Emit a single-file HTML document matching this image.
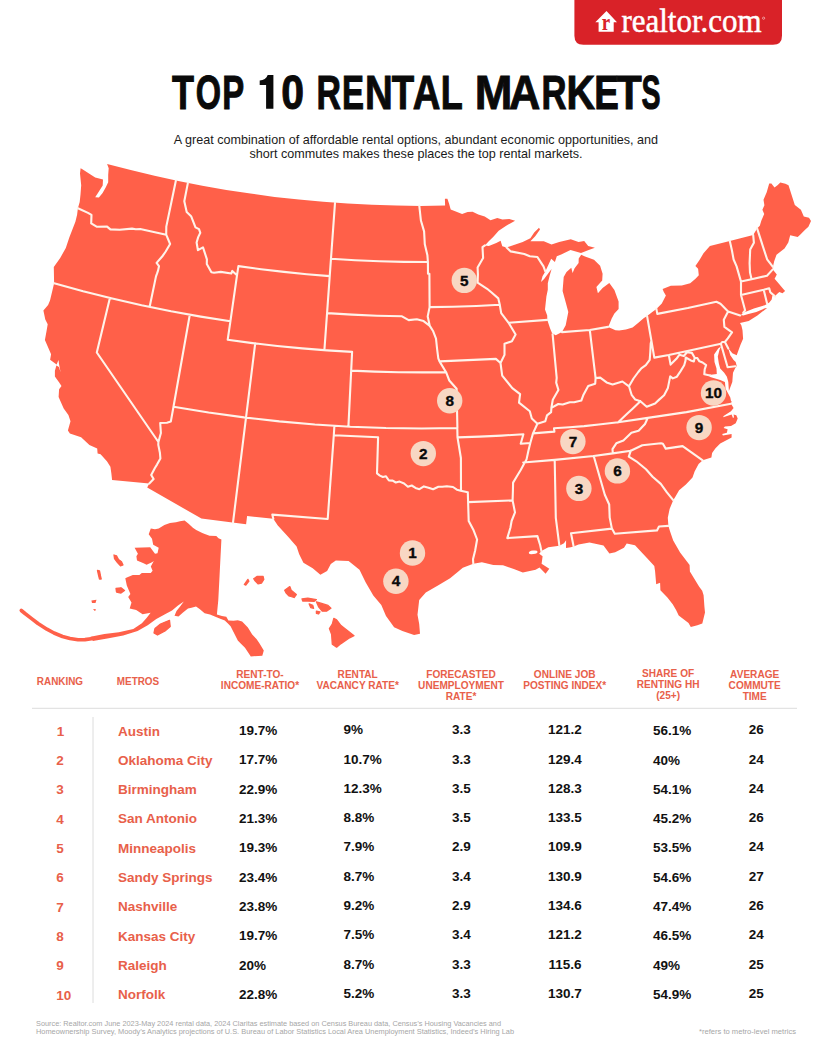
<!DOCTYPE html>
<html><head><meta charset="utf-8"><style>
html,body{margin:0;padding:0;background:#fff;}
body{width:832px;height:1040px;overflow:hidden;position:relative;font-family:"Liberation Sans",sans-serif;}
svg text{font-family:"Liberation Sans",sans-serif;}
.h{font-size:10.1px;font-weight:bold;fill:#E8604A;}
.rk{font-size:13.5px;font-weight:bold;fill:#E8604A;}
.mt{font-size:13.5px;font-weight:bold;fill:#E8604A;}
.v{font-size:13.5px;font-weight:bold;fill:#111;}
.cn{font-size:15.3px;font-weight:bold;fill:#0a0a0a;stroke:#0a0a0a;stroke-width:0.35px;}
</style></head><body>
<svg width="832" height="1040" viewBox="0 0 832 1040" style="position:absolute;left:0;top:0">
<path d="M574.4,0 H782 V35.7 Q782,44.7 773,44.7 H583.4 Q574.4,44.7 574.4,35.7 Z" fill="#D92228"/>
<circle cx="763.6" cy="18.2" r="1.1" fill="none" stroke="#fff" stroke-width="0.5"/>
<path d="M606.5,11 L617,22.3 L613.7,22.3 L613.7,31.8 L598.6,31.8 L598.6,22.3 L595.3,22.3 Z" fill="#fff"/>
<text transform="translate(601.8,29.6) scale(0.8,1)" font-size="23.6" font-weight="bold" fill="#D92228" style="font-family:'Liberation Serif',serif">r</text>
<text x="621.5" y="31.5" font-family="Liberation Serif" font-size="34" fill="#fff" textLength="140" lengthAdjust="spacingAndGlyphs" stroke="#fff" stroke-width="0.5" style="font-family:'Liberation Serif',serif">realtor.com</text>
<text transform="translate(172.05,108.5) scale(0.7460,1)" font-size="48.26" font-weight="bold" fill="#0a0a0a" stroke="#0a0a0a" stroke-width="0.9" vector-effect="non-scaling-stroke">T</text>
<text transform="translate(195.72,108.5) scale(0.6740,1)" font-size="48.26" font-weight="bold" fill="#0a0a0a" stroke="#0a0a0a" stroke-width="0.9" vector-effect="non-scaling-stroke">O</text>
<text transform="translate(222.35,108.5) scale(0.6811,1)" font-size="48.26" font-weight="bold" fill="#0a0a0a" stroke="#0a0a0a" stroke-width="0.9" vector-effect="non-scaling-stroke">P</text>
<path d="M273.4,75 L273.4,108.8 L266.1,108.8 L266.1,84.9 L259.7,84.9 L259.7,80.5 C263.6,80.3 266.6,78.6 267.7,75 Z" fill="#0a0a0a"/>
<text transform="translate(281.23,108.5) scale(0.8497,1)" font-size="48.26" font-weight="bold" fill="#0a0a0a" stroke="#0a0a0a" stroke-width="0.9" vector-effect="non-scaling-stroke">0</text>
<text transform="translate(316.38,108.5) scale(0.7019,1)" font-size="48.26" font-weight="bold" fill="#0a0a0a" stroke="#0a0a0a" stroke-width="0.9" vector-effect="non-scaling-stroke">R</text>
<text transform="translate(341.94,108.5) scale(0.6833,1)" font-size="48.26" font-weight="bold" fill="#0a0a0a" stroke="#0a0a0a" stroke-width="0.9" vector-effect="non-scaling-stroke">E</text>
<text transform="translate(365.08,108.5) scale(0.7966,1)" font-size="48.26" font-weight="bold" fill="#0a0a0a" stroke="#0a0a0a" stroke-width="0.9" vector-effect="non-scaling-stroke">N</text>
<text transform="translate(391.74,108.5) scale(0.7601,1)" font-size="48.26" font-weight="bold" fill="#0a0a0a" stroke="#0a0a0a" stroke-width="0.9" vector-effect="non-scaling-stroke">T</text>
<text transform="translate(412.70,108.5) scale(0.7938,1)" font-size="48.26" font-weight="bold" fill="#0a0a0a" stroke="#0a0a0a" stroke-width="0.9" vector-effect="non-scaling-stroke">A</text>
<text transform="translate(440.84,108.5) scale(0.7470,1)" font-size="48.26" font-weight="bold" fill="#0a0a0a" stroke="#0a0a0a" stroke-width="0.9" vector-effect="non-scaling-stroke">L</text>
<text transform="translate(474.63,108.5) scale(0.9365,1)" font-size="48.26" font-weight="bold" fill="#0a0a0a" stroke="#0a0a0a" stroke-width="0.9" vector-effect="non-scaling-stroke">M</text>
<text transform="translate(509.07,108.5) scale(0.8988,1)" font-size="48.26" font-weight="bold" fill="#0a0a0a" stroke="#0a0a0a" stroke-width="0.9" vector-effect="non-scaling-stroke">A</text>
<text transform="translate(541.43,108.5) scale(0.7182,1)" font-size="48.26" font-weight="bold" fill="#0a0a0a" stroke="#0a0a0a" stroke-width="0.9" vector-effect="non-scaling-stroke">R</text>
<text transform="translate(566.41,108.5) scale(0.8180,1)" font-size="48.26" font-weight="bold" fill="#0a0a0a" stroke="#0a0a0a" stroke-width="0.9" vector-effect="non-scaling-stroke">K</text>
<text transform="translate(594.18,108.5) scale(0.7646,1)" font-size="48.26" font-weight="bold" fill="#0a0a0a" stroke="#0a0a0a" stroke-width="0.9" vector-effect="non-scaling-stroke">E</text>
<text transform="translate(616.58,108.5) scale(0.8586,1)" font-size="48.26" font-weight="bold" fill="#0a0a0a" stroke="#0a0a0a" stroke-width="0.9" vector-effect="non-scaling-stroke">T</text>
<text transform="translate(641.53,108.5) scale(0.5915,1)" font-size="48.26" font-weight="bold" fill="#0a0a0a" stroke="#0a0a0a" stroke-width="0.9" vector-effect="non-scaling-stroke">S</text>
<text x="416" y="144" text-anchor="middle" font-size="12.6" fill="#1a1a1a">A great combination of affordable rental options, abundant economic opportunities, and</text>
<text x="416" y="157.5" text-anchor="middle" font-size="12.6" fill="#1a1a1a">short commutes makes these places the top rental markets.</text>
<path d="M107.1,164.0 L130.7,170.1 L154.5,175.8 L178.3,181.0 L202.3,185.7 L226.3,189.9 L250.4,193.6 L274.6,196.9 L298.9,199.6 L323.2,201.8 L347.5,203.6 L371.9,204.8 L396.3,205.6 L420.7,205.9 L445.1,205.6 L444.9,198.7 L447.4,198.8 L449.1,203.7 L450.7,209.5 L456.4,211.7 L462.1,213.9 L467.6,211.9 L472.6,211.7 L478.3,214.5 L484.7,216.6 L490.5,220.3 L497.3,218.1 L502.4,219.6 L509.3,219.1 L515.1,220.7 L506.2,225.7 L498.7,230.8 L493.4,236.7 L488.5,241.5 L484.9,245.4 L488.8,246.1 L496.3,242.9 L500.6,240.8 L502.3,246.2 L506.6,247.4 L522.7,242.1 L530.4,238.3 L534.2,232.5 L539.0,227.7 L540.0,229.6 L535.2,236.3 L530.4,241.2 L543.8,241.2 L551.5,244.6 L559.2,242.1 L570.8,239.2 L578.5,242.1 L584.2,240.9 L588.2,246.0 L594.9,247.8 L588.7,250.0 L581.0,253.1 L570.5,250.1 L561.2,254.5 L556.8,256.3 L554.9,262.1 L551.2,258.7 L545.3,271.4 L542.5,276.3 L541.0,282.1 L544.1,279.0 L549.3,271.9 L551.6,268.9 L549.7,275.6 L547.8,283.3 L547.8,289.8 L546.4,296.4 L545.0,309.6 L547.2,315.4 L547.3,319.9 L550.2,328.8 L552.1,333.3 L555.7,335.3 L562.0,332.1 L565.7,325.3 L568.3,311.9 L566.1,303.7 L562.6,291.0 L563.7,276.9 L566.5,271.9 L571.3,267.7 L572.6,273.1 L574.6,268.2 L578.6,263.0 L578.7,258.4 L581.2,254.7 L585.0,256.6 L594.0,259.7 L600.1,265.8 L602.6,273.8 L602.2,280.4 L596.4,286.9 L597.9,293.2 L602.6,287.9 L609.3,283.1 L614.4,289.9 L618.6,301.5 L618.6,309.0 L614.4,313.4 L611.7,318.5 L609.7,323.5 L608.1,327.1 L615.5,330.2 L619.1,330.6 L625.9,329.6 L632.6,327.6 L638.7,322.4 L643.6,318.2 L647.1,316.1 L652.3,312.0 L656.4,308.9 L661.8,303.6 L665.9,295.6 L663.8,291.9 L662.6,289.1 L670.8,285.8 L681.8,285.5 L690.2,283.2 L695.5,278.8 L698.8,275.3 L698.1,268.8 L695.4,265.9 L699.5,259.9 L703.5,253.3 L709.9,246.1 L711.9,245.5 L729.8,241.1 L753.2,235.1 L757.1,228.4 L759.8,225.8 L761.4,220.5 L764.2,214.0 L762.4,209.7 L764.4,205.3 L763.5,199.8 L766.7,192.2 L769.2,183.6 L771.4,183.5 L774.5,187.4 L777.8,185.1 L780.3,182.4 L785.4,183.7 L788.5,185.2 L794.8,204.9 L800.9,209.7 L803.8,216.6 L809.0,217.8 L811.0,221.1 L808.4,226.8 L805.1,229.7 L800.4,234.5 L797.7,236.9 L790.2,235.3 L788.3,242.6 L784.5,248.6 L776.5,254.7 L774.2,261.2 L772.9,266.8 L772.8,269.4 L776.8,274.5 L774.6,278.8 L778.9,283.8 L783.3,288.9 L785.1,291.0 L782.5,293.2 L779.3,292.1 L776.5,294.5 L775.3,296.6 L772.4,295.5 L771.7,299.5 L769.3,302.5 L764.8,305.3 L753.9,308.4 L743.3,312.7 L741.0,315.0 L743.3,315.5 L747.5,314.3 L756.3,312.1 L764.9,308.3 L767.1,307.9 L757.4,315.5 L748.7,320.9 L740.0,323.0 L741.4,325.6 L742.5,330.2 L743.1,338.7 L740.4,345.1 L736.7,355.2 L732.3,353.2 L729.6,349.8 L728.3,348.5 L730.3,355.2 L733.6,359.9 L735.7,361.9 L736.7,366.0 L735.0,368.6 L733.0,372.7 L732.3,382.1 L728.9,390.9 L728.3,382.1 L726.9,376.7 L724.2,372.7 L720.2,368.6 L718.8,363.3 L717.8,356.5 L719.5,349.8 L720.9,346.4 L718.2,348.5 L714.1,354.5 L714.5,361.9 L716.5,368.6 L716.8,374.0 L710.8,374.7 L709.4,376.7 L713.5,378.1 L720.2,380.1 L724.9,382.1 L725.6,388.8 L730.3,397.6 L731.0,401.0 L731.6,401.1 L731.0,403.7 L733.6,408.1 L731.0,411.2 L723.6,415.9 L723.2,417.2 L731.6,414.5 L733.0,417.9 L734.0,417.2 L733.6,414.5 L736.3,415.2 L737.7,418.6 L735.7,423.3 L731.0,426.0 L724.9,426.6 L723.6,428.0 L727.6,429.3 L726.9,432.7 L722.2,434.0 L722.9,435.4 L731.6,434.0 L731.6,437.4 L726.9,440.1 L720.2,443.5 L715.5,448.2 L712.1,452.9 L711.4,457.6 L702.7,460.3 L698.6,464.0 L694.6,471.4 L692.5,477.5 L685.9,484.4 L679.1,490.3 L675.5,496.6 L673.2,500.2 L669.6,508.9 L667.8,517.7 L668.4,525.9 L670.1,531.5 L673.2,540.4 L680.1,552.4 L689.6,564.9 L689.9,571.4 L699.2,586.7 L702.2,590.8 L703.6,595.3 L704.4,606.4 L705.0,612.4 L702.3,623.5 L697.4,625.3 L690.8,627.0 L688.5,623.1 L678.7,615.4 L676.2,610.2 L672.7,604.2 L667.4,597.5 L660.4,590.2 L660.1,582.8 L656.2,584.3 L655.1,571.4 L654.3,565.9 L647.4,558.5 L642.7,553.5 L635.0,545.2 L626.7,543.6 L624.0,547.7 L615.2,552.2 L609.4,553.6 L603.5,545.5 L589.5,542.5 L578.5,544.6 L573.6,546.4 L570.8,547.2 L566.0,548.0 L566.1,540.2 L564.0,543.2 L559.4,545.8 L548.3,547.2 L541.4,551.1 L539.2,553.7 L542.6,556.2 L541.6,563.7 L549.3,568.7 L545.6,573.7 L539.5,567.6 L535.6,569.8 L522.8,572.5 L514.5,569.3 L503.0,565.3 L493.3,564.9 L481.9,562.2 L473.3,563.8 L462.8,567.8 L458.0,571.7 L450.1,578.3 L438.8,585.0 L425.8,592.5 L419.2,599.9 L417.5,614.7 L419.2,623.9 L420.0,633.8 L414.1,634.9 L402.4,631.1 L394.1,627.3 L386.0,616.1 L381.3,604.9 L373.3,595.5 L365.6,582.2 L359.5,569.8 L348.6,561.1 L335.8,560.5 L330.8,563.9 L327.1,571.1 L320.4,574.8 L312.7,568.3 L303.4,562.8 L299.2,554.3 L296.6,546.6 L287.9,536.6 L277.8,525.4 L273.3,518.8 L247.1,516.0 L246.1,524.3 L201.4,518.5 L147.2,487.6 L149.3,483.6 L112.1,479.9 L111.4,473.7 L110.4,466.8 L106.9,461.3 L100.6,454.2 L97.6,453.5 L97.2,448.6 L89.4,444.9 L81.1,437.2 L69.9,433.6 L67.9,430.5 L70.5,421.2 L68.4,414.9 L63.7,408.5 L58.6,396.9 L59.1,389.3 L61.5,386.1 L59.0,382.3 L54.9,376.6 L54.9,370.8 L56.4,365.4 L58.9,367.0 L60.6,372.3 L59.0,364.1 L58.5,360.1 L56.6,364.5 L50.1,359.8 L51.1,354.3 L44.9,339.9 L46.6,330.7 L47.7,324.2 L45.3,319.6 L43.4,310.5 L48.1,304.9 L50.0,300.6 L53.0,287.9 L54.1,283.3 L53.8,267.0 L60.2,258.0 L65.8,248.0 L69.3,237.4 L75.4,221.8 L77.1,214.7 L77.9,208.2 L79.7,202.0 L80.5,194.6 L81.2,185.2 L80.0,173.4 L80.6,168.3 L82.0,168.9 L95.2,177.4 L103.0,179.5 L102.7,185.5 L98.1,192.8 L95.2,197.2 L98.9,197.4 L102.6,193.1 L105.8,187.3 L108.2,182.2 L108.2,174.7 L108.7,168.2 L107.1,164.0Z M221.4,539.5 L219.6,575.0 L218.3,600.0 L216.9,614.6 L221.9,616.0 L226.3,616.8 L228.4,620.6 L233.5,620.8 L237.8,620.2 L242.1,621.6 L247.9,627.4 L252.2,634.6 L256.5,638.9 L259.4,643.3 L263.8,650.5 L262.3,655.7 L250.8,656.4 L245.0,647.8 L240.7,643.5 L237.8,640.6 L233.5,631.9 L230.6,626.2 L227.7,623.3 L224.8,620.4 L219.0,618.2 L210.0,614.5 L204.6,613.2 L199.6,609.0 L196.0,606.5 L191.5,607.8 L188.0,608.5 L183.0,612.5 L178.5,616.5 L174.5,615.8 L176.5,611.0 L180.5,606.0 L183.8,601.5 L178.0,605.5 L172.0,610.5 L165.0,614.3 L156.3,619.0 L147.7,625.2 L137.6,631.0 L123.2,635.6 L107.3,638.6 L92.9,641.0 L90.5,636.8 L104.4,634.0 L118.8,632.2 L133.3,629.0 L141.9,623.2 L147.0,617.5 L150.6,612.8 L142.6,614.2 L136.2,610.0 L129.7,608.5 L131.5,602.5 L128.2,597.0 L130.4,594.0 L126.8,585.5 L125.3,578.2 L127.4,577.3 L132.8,574.9 L139.4,574.9 L141.8,573.1 L150.8,573.1 L152.6,570.7 L150.8,566.5 L153.8,561.1 L152.0,562.3 L146.6,564.7 L143.0,562.9 L137.0,560.5 L136.4,556.3 L137.9,553.8 L134.6,547.8 L150.2,547.2 L155.0,553.8 L157.5,553.2 L158.7,547.8 L153.2,544.8 L152.0,538.8 L148.7,534.3 L150.8,528.6 L155.0,529.2 L158.7,528.6 L164.4,525.0 L170.0,523.0 L176.0,522.2 L180.0,521.3 L184.6,520.5 L188.6,523.7 L192.9,527.8 L196.2,530.1 L202.3,533.1 L204.8,533.9 L209.5,535.8 L216.3,535.9 L218.5,538.2ZM169.5,620.3 L170.2,626.5 L165.0,631.0 L157.5,635.0 L154.0,633.0 L155.0,628.5 L160.5,624.0ZM116.0,588.5 L121.0,587.8 L124.5,590.5 L121.0,593.0 L116.5,592.0ZM97.5,570.5 L99.5,571.0 L100.5,576.0 L101.2,579.0 L99.5,579.0 L98.5,575.0ZM114.0,555.0 L116.5,555.8 L118.5,559.5 L121.5,561.8 L123.0,565.0 L120.5,565.8 L117.5,562.5 L114.5,558.5ZM91.4,600.5 L96.5,599.8 L95.5,603.0 L92.0,603.0ZM93.0,609.0 L96.0,609.2 L95.0,611.2Z" fill="#FF6049"/>
<path d="M244.3,584.5 L247.9,579.4 L248.9,581.2 L245.8,585.2ZM253.7,578.7 L257.3,576.3 L263.1,576.5 L263.8,579.4 L261.6,583.0 L258.0,583.8 L255.1,580.9ZM284.7,590.2 L289.8,586.6 L291.2,590.2 L296.3,594.6 L294.1,597.5 L289.0,596.0 L286.2,593.1ZM302.0,598.9 L307.8,598.2 L316.4,599.6 L314.3,601.3 L307.8,601.0 L302.7,601.0ZM309.2,603.9 L312.8,605.4 L313.6,608.3 L310.7,607.6ZM316.4,601.8 L320.8,603.2 L328.0,605.4 L330.9,608.3 L326.5,611.2 L322.2,611.2 L318.6,606.8ZM316.4,611.2 L320.0,611.9 L318.6,614.0 L316.4,613.3ZM333.8,618.4 L336.6,619.8 L341.0,625.6 L346.7,629.9 L354.0,635.7 L349.6,637.8 L341.0,643.6 L336.6,647.2 L332.3,644.3 L331.6,634.2 L329.4,628.5 L332.3,624.1ZM169.5,620.3 L170.2,626.5 L165.0,631.0 L157.5,635.0 L154.0,633.0 L155.0,628.5 L160.5,624.0ZM116.0,588.5 L121.0,587.8 L124.5,590.5 L121.0,593.0 L116.5,592.0ZM97.5,570.5 L99.5,571.0 L100.5,576.0 L101.2,579.0 L99.5,579.0 L98.5,575.0ZM114.0,555.0 L116.5,555.8 L118.5,559.5 L121.5,561.8 L123.0,565.0 L120.5,565.8 L117.5,562.5 L114.5,558.5Z" fill="#FF6049" stroke="#FF6049" stroke-width="1.3" stroke-linejoin="round"/>
<path d="M93.0,638.5 L85.0,639.6 L78.0,639.8 L70.0,638.5 L62.5,636.5 L54.0,633.0 L46.9,629.2 L38.0,623.5 L31.3,618.3 L25.0,613.5 L21.3,610.5" fill="none" stroke="#FF6049" stroke-width="3.6" stroke-linecap="round" stroke-linejoin="round"/>
<ellipse cx="533.2" cy="552.3" rx="4.4" ry="1.7" fill="#fff" transform="rotate(-8 533.2 552.3)"/>
<path d="M77.9,208.2 L88.0,212.9 L91.5,214.8 L91.2,223.4 L97.0,226.8 L107.1,226.6 L110.4,229.4 L119.7,229.8 L132.0,228.6 L135.8,229.3 L140.2,229.0 L166.2,234.7 M175.9,180.5 L166.3,226.6 L166.2,234.7 M166.2,234.7 L170.1,244.0 L165.7,251.5 L162.8,255.7 L156.6,262.9 L159.0,266.2 L158.1,270.4 L157.1,273.4 L156.0,276.4 L149.6,307.0 M54.1,283.3 L83.1,291.3 L112.3,298.6 L141.6,305.3 L171.1,311.3 L200.7,316.6 L230.4,321.3 M109.9,298.1 L96.8,352.5 L158.4,442.0 M158.4,442.0 L160.9,433.0 L160.2,423.0 L166.9,422.7 L170.8,421.6 L173.5,406.7 M158.4,442.0 L158.3,444.9 L159.9,452.7 L160.4,458.5 L157.0,464.6 L154.9,468.0 L151.2,474.9 L153.6,479.1 L149.3,483.6 M189.8,314.7 L173.5,406.7 M173.5,406.7 L208.6,412.5 L243.9,417.4 L279.3,421.4 L314.8,424.5 L350.4,426.7 L386.0,428.0 L421.6,428.5 L457.3,428.0 M187.9,182.9 L184.3,201.2 L186.7,212.1 L191.1,216.2 L195.5,227.3 L199.0,229.2 L200.3,232.8 L198.2,237.1 L196.6,242.5 L197.9,250.2 L203.0,247.4 L206.9,259.3 L206.8,264.0 L211.4,272.3 L214.0,272.7 L220.8,271.9 L231.3,273.5 L232.3,270.9 L237.0,275.3 M237.0,275.3 L230.4,321.3 M237.0,275.3 L238.4,266.1 L238.4,266.1 L261.1,269.2 L284.0,271.9 L306.8,274.2 L329.7,276.1 M335.0,202.8 L324.4,350.2 M230.4,321.3 L227.7,339.7 L227.7,339.7 L252.5,343.1 L277.3,346.0 L302.2,348.4 L327.2,350.4 L352.1,351.9 M255.2,343.4 L233.0,522.7 M348.4,426.6 L352.1,351.9 M351.2,370.6 L374.9,371.6 L398.6,372.2 L422.4,372.4 L446.1,372.2 M334.4,425.8 L333.8,435.2 L327.7,519.0 L272.3,514.6 L273.3,518.8 M333.8,435.2 L378.1,437.2 L377.0,473.4 L379.9,475.6 L382.9,477.0 L386.0,476.3 L388.9,480.5 L392.7,480.6 L395.8,482.5 L399.6,481.6 L404.1,483.5 L407.9,486.7 L411.7,485.5 L415.5,487.9 L419.4,489.2 L423.9,486.4 L428.5,487.7 L433.1,489.2 L438.4,486.7 L442.3,486.8 L446.8,486.2 L453.0,487.0 L456.9,489.7 L460.7,490.8 L467.8,492.2 M331.0,258.7 L355.2,260.2 L379.4,261.3 L403.7,261.9 L427.9,262.0 M419.3,205.9 L420.9,220.5 L424.1,231.4 L424.8,244.3 L427.4,255.3 L427.9,262.0 M327.1,313.1 L352.0,314.6 L377.0,315.7 L402.0,316.3 L408.7,320.1 L416.8,319.2 L423.6,321.1 L429.8,325.9 M427.9,262.0 L428.0,273.8 L429.4,273.8 L429.6,307.1 L427.7,316.4 L429.8,325.9 M429.6,307.1 L453.0,306.8 L476.4,306.0 L499.8,304.8 M499.8,304.8 L498.3,298.4 L491.3,292.3 L487.1,288.8 L477.6,282.7 L477.9,274.4 L477.6,267.5 L483.1,257.9 L482.5,247.2 L484.9,245.4 M429.8,325.9 L433.2,331.3 L436.0,338.7 L437.1,349.0 L438.3,358.3 L439.5,361.4 L446.1,372.2 M446.1,372.2 L449.3,380.5 L456.6,388.7 L457.4,428.0 M457.3,428.0 L457.5,437.4 L460.9,458.0 L461.0,490.8 M467.8,492.2 L468.7,521.1 L473.6,530.3 L477.1,539.5 L475.1,550.7 L473.0,559.2 L473.3,563.8 M468.1,502.1 L512.6,500.4 M457.5,437.4 L479.5,436.6 L501.5,435.6 L523.4,434.2 L520.7,443.7 L530.3,443.0 M530.3,443.0 L528.4,450.7 L526.5,459.6 L523.4,465.1 L520.7,470.0 L516.6,476.8 L513.1,482.6 L512.9,491.1 L512.6,500.4 L515.0,512.4 L511.6,521.0 L510.4,527.7 L507.3,538.1 L537.4,536.1 L540.2,545.2 L541.4,551.1 M439.5,361.4 L495.9,358.9 L500.5,363.0 M500.5,363.0 L502.2,375.6 L512.3,388.1 L520.1,394.1 L519.0,402.6 L529.8,411.2 L531.8,418.5 L537.4,423.7 L533.0,433.4 L530.3,443.0 M499.8,304.8 L501.2,313.1 L508.6,322.8 L515.6,334.5 L511.9,341.3 L504.5,343.7 L504.5,354.9 L500.5,363.0 M508.8,322.8 L547.3,319.9 M506.6,247.4 L510.7,251.4 L524.3,254.0 L529.8,256.3 L537.4,257.0 L541.5,263.4 L543.5,266.4 L545.3,271.4 M552.6,334.2 L556.7,377.8 L556.2,382.6 L558.4,389.9 L552.8,399.8 L551.4,407.8 M551.4,407.8 L551.1,412.2 L547.0,415.4 L545.3,421.2 L537.4,423.7 M562.0,332.1 L589.8,330.0 L608.1,326.9 M589.8,330.0 L595.6,378.1 M551.4,407.8 L558.3,404.0 L562.7,404.5 L569.8,402.2 L574.2,402.3 L581.3,400.6 L583.5,394.7 L588.2,386.0 L595.2,383.8 L595.6,378.1 L600.2,377.6 L606.6,382.4 L612.6,384.4 L622.4,381.5 L629.0,386.3 L633.5,378.5 L638.3,372.0 L641.3,368.3 L645.8,365.1 L649.7,359.8 L650.3,351.9 L650.7,343.5 L651.4,340.7 M651.4,340.7 L647.1,316.1 M651.4,340.7 L654.3,357.6 L668.8,355.0 L720.9,343.7 L722.1,342.0 L724.9,342.0 M668.8,355.0 L670.6,364.6 L676.4,358.8 L679.3,354.8 L683.8,356.0 L687.0,352.2 L691.9,352.9 L694.7,357.7 M694.7,357.7 L697.3,358.1 L699.4,361.3 L702.6,362.5 L706.1,365.2 L704.7,369.3 L704.3,374.2 L708.9,375.2 L710.1,375.4 M694.7,357.7 L693.9,361.4 L690.8,360.4 L685.7,357.5 L685.5,360.6 L684.2,365.3 L680.6,371.1 L676.9,376.7 L672.8,378.4 L670.2,376.4 L667.9,387.9 L664.1,395.2 L658.9,399.9 L655.1,403.4 L646.7,406.7 L640.4,401.2 M640.4,401.2 L635.3,399.6 L631.6,394.8 L629.0,386.3 M640.4,401.2 L632.3,408.9 L627.1,413.8 L618.2,422.3 M618.2,422.3 L598.8,424.5 L584.2,426.1 L569.5,427.3 L554.0,428.3 L554.4,431.6 L533.0,433.4 M618.2,422.3 L647.8,417.9 L686.5,412.1 L731.0,403.7 M647.8,417.9 L645.0,424.0 L638.6,430.7 L631.4,432.7 L623.4,440.5 L616.3,443.3 L612.5,449.1 L612.8,453.4 M612.8,453.4 L593.7,456.0 L554.7,459.9 L523.2,462.5 M612.8,453.4 L630.8,450.7 M630.8,450.7 L642.3,445.2 L661.0,443.2 L662.9,443.8 L665.7,448.6 L682.6,446.1 L702.7,460.3 M630.8,450.7 L628.8,456.7 L636.3,461.3 L646.0,469.2 L652.6,476.7 L660.8,483.9 L666.9,492.4 L673.2,500.2 M593.7,456.0 L604.8,494.7 L609.2,504.5 L609.7,517.6 L611.9,528.6 M554.7,459.9 L555.8,517.8 L559.4,545.8 M573.6,546.4 L571.0,533.2 L611.9,528.6 M611.9,528.6 L614.8,533.7 L657.0,530.4 L659.0,526.5 L668.4,525.9 M656.4,308.9 L657.3,313.9 L687.8,308.0 L716.4,301.8 L720.5,303.7 L728.1,311.4 M728.1,311.4 L740.2,315.4 M728.1,311.4 L723.8,319.8 L724.4,326.8 L732.0,332.3 L727.8,338.4 L724.9,342.0 L728.3,348.5 M720.9,343.7 L727.6,367.3 L735.4,366.3 M729.8,241.1 L731.9,250.3 L733.6,259.5 L736.6,266.4 L741.0,281.6 M741.0,281.6 L741.0,295.0 L745.1,310.3 L743.3,312.7 M753.2,235.1 L753.9,242.7 L750.2,249.5 L749.6,263.1 L750.0,272.6 L751.6,279.2 M741.0,281.6 L751.6,279.2 L767.0,275.7 L772.8,269.4 M757.1,228.4 L767.1,259.3 L772.9,266.8 M741.0,295.0 L763.7,289.7 L769.2,288.2 L770.3,292.2 L775.3,296.6 M763.7,289.7 L767.0,303.3" fill="none" stroke="#FFF3EA" stroke-width="2.1" stroke-linejoin="round" stroke-linecap="round"/>

<circle cx="464.3" cy="280.4" r="12.7" fill="#F8D7C3"/><text x="464.3" y="285.5" text-anchor="middle" class="cn">5</text>
<circle cx="449.7" cy="400.7" r="12.7" fill="#F8D7C3"/><text x="449.7" y="405.8" text-anchor="middle" class="cn">8</text>
<circle cx="423.3" cy="453.6" r="12.7" fill="#F8D7C3"/><text x="423.3" y="458.7" text-anchor="middle" class="cn">2</text>
<circle cx="713.5" cy="393.0" r="12.7" fill="#F8D7C3"/><text x="713.5" y="398.1" text-anchor="middle" class="cn">10</text>
<circle cx="699.1" cy="427.6" r="12.7" fill="#F8D7C3"/><text x="699.1" y="432.7" text-anchor="middle" class="cn">9</text>
<circle cx="572.9" cy="441.6" r="12.7" fill="#F8D7C3"/><text x="572.9" y="446.7" text-anchor="middle" class="cn">7</text>
<circle cx="617.4" cy="470.9" r="12.7" fill="#F8D7C3"/><text x="617.4" y="476.0" text-anchor="middle" class="cn">6</text>
<circle cx="578.9" cy="488.4" r="12.7" fill="#F8D7C3"/><text x="578.9" y="493.5" text-anchor="middle" class="cn">3</text>
<circle cx="412.5" cy="553.0" r="12.7" fill="#F8D7C3"/><text x="412.5" y="558.1" text-anchor="middle" class="cn">1</text>
<circle cx="395.9" cy="581.2" r="12.7" fill="#F8D7C3"/><text x="395.9" y="586.3" text-anchor="middle" class="cn">4</text>
<text x="36.8" y="684.9" class="h" textLength="46.3" lengthAdjust="spacingAndGlyphs">RANKING</text>
<text x="116.8" y="684.9" class="h" textLength="42.4" lengthAdjust="spacingAndGlyphs">METROS</text>
<text x="260" y="678.0" text-anchor="middle" class="h">RENT-TO-</text>
<text x="260" y="688.8" text-anchor="middle" class="h">INCOME-RATIO*</text>
<text x="357.7" y="678.0" text-anchor="middle" class="h">RENTAL</text>
<text x="357.7" y="688.8" text-anchor="middle" class="h">VACANCY RATE*</text>
<text x="461" y="678.0" text-anchor="middle" class="h">FORECASTED</text>
<text x="461" y="688.8" text-anchor="middle" class="h">UNEMPLOYMENT</text>
<text x="461" y="699.6" text-anchor="middle" class="h">RATE*</text>
<text x="564.7" y="678.0" text-anchor="middle" class="h">ONLINE JOB</text>
<text x="564.7" y="688.8" text-anchor="middle" class="h">POSTING INDEX*</text>
<text x="668.1" y="677.3" text-anchor="middle" class="h">SHARE OF</text>
<text x="668.1" y="688.1" text-anchor="middle" class="h">RENTING HH</text>
<text x="668.1" y="698.9" text-anchor="middle" class="h">(25+)</text>
<text x="754.7" y="678.0" text-anchor="middle" class="h">AVERAGE</text>
<text x="754.7" y="688.8" text-anchor="middle" class="h">COMMUTE</text>
<text x="754.7" y="699.6" text-anchor="middle" class="h">TIME</text>
<line x1="32" y1="708.3" x2="797" y2="708.3" stroke="#DCDCDC" stroke-width="1"/>
<line x1="93" y1="717" x2="93" y2="1003" stroke="#DCDCDC" stroke-width="1"/>
<text x="56.8" y="735.7" class="rk">1</text>
<text x="118" y="735.5" class="mt">Austin</text>
<text x="239" y="735.0" class="v">19.7%</text>
<text x="343.5" y="734.2" class="v">9%</text>
<text x="461.3" y="734.2" text-anchor="middle" class="v">3.3</text>
<text x="565" y="734.2" text-anchor="middle" class="v">121.2</text>
<text x="653" y="735.2" class="v">56.1%</text>
<text x="756.3" y="734.2" text-anchor="middle" class="v">26</text>
<text x="56.2" y="765.0" class="rk">2</text>
<text x="118" y="764.8" class="mt">Oklahoma City</text>
<text x="239" y="764.3" class="v">17.7%</text>
<text x="343.5" y="763.5" class="v">10.7%</text>
<text x="461.3" y="763.5" text-anchor="middle" class="v">3.3</text>
<text x="565" y="763.5" text-anchor="middle" class="v">129.4</text>
<text x="653" y="764.5" class="v">40%</text>
<text x="756.3" y="763.5" text-anchor="middle" class="v">24</text>
<text x="56.2" y="794.3" class="rk">3</text>
<text x="118" y="794.1" class="mt">Birmingham</text>
<text x="239" y="793.6" class="v">22.9%</text>
<text x="343.5" y="792.8" class="v">12.3%</text>
<text x="461.3" y="792.8" text-anchor="middle" class="v">3.5</text>
<text x="565" y="792.8" text-anchor="middle" class="v">128.3</text>
<text x="653" y="793.8" class="v">54.1%</text>
<text x="756.3" y="792.8" text-anchor="middle" class="v">24</text>
<text x="56.2" y="823.6" class="rk">4</text>
<text x="118" y="823.4" class="mt">San Antonio</text>
<text x="239" y="822.9" class="v">21.3%</text>
<text x="343.5" y="822.1" class="v">8.8%</text>
<text x="461.3" y="822.1" text-anchor="middle" class="v">3.5</text>
<text x="565" y="822.1" text-anchor="middle" class="v">133.5</text>
<text x="653" y="823.1" class="v">45.2%</text>
<text x="756.3" y="822.1" text-anchor="middle" class="v">26</text>
<text x="56.2" y="852.9" class="rk">5</text>
<text x="118" y="852.7" class="mt">Minneapolis</text>
<text x="239" y="852.2" class="v">19.3%</text>
<text x="343.5" y="851.4" class="v">7.9%</text>
<text x="461.3" y="851.4" text-anchor="middle" class="v">2.9</text>
<text x="565" y="851.4" text-anchor="middle" class="v">109.9</text>
<text x="653" y="852.4" class="v">53.5%</text>
<text x="756.3" y="851.4" text-anchor="middle" class="v">24</text>
<text x="56.2" y="882.2" class="rk">6</text>
<text x="118" y="882.0" class="mt">Sandy Springs</text>
<text x="239" y="881.5" class="v">23.4%</text>
<text x="343.5" y="880.8" class="v">8.7%</text>
<text x="461.3" y="880.8" text-anchor="middle" class="v">3.4</text>
<text x="565" y="880.8" text-anchor="middle" class="v">130.9</text>
<text x="653" y="881.8" class="v">54.6%</text>
<text x="756.3" y="880.8" text-anchor="middle" class="v">27</text>
<text x="56.2" y="911.6" class="rk">7</text>
<text x="118" y="911.4" class="mt">Nashville</text>
<text x="239" y="910.9" class="v">23.8%</text>
<text x="343.5" y="910.1" class="v">9.2%</text>
<text x="461.3" y="910.1" text-anchor="middle" class="v">2.9</text>
<text x="565" y="910.1" text-anchor="middle" class="v">134.6</text>
<text x="653" y="911.1" class="v">47.4%</text>
<text x="756.3" y="910.1" text-anchor="middle" class="v">26</text>
<text x="56.2" y="940.9" class="rk">8</text>
<text x="118" y="940.7" class="mt">Kansas City</text>
<text x="239" y="940.2" class="v">19.7%</text>
<text x="343.5" y="939.4" class="v">7.5%</text>
<text x="461.3" y="939.4" text-anchor="middle" class="v">3.4</text>
<text x="565" y="939.4" text-anchor="middle" class="v">121.2</text>
<text x="653" y="940.4" class="v">46.5%</text>
<text x="756.3" y="939.4" text-anchor="middle" class="v">24</text>
<text x="56.2" y="970.2" class="rk">9</text>
<text x="118" y="970.0" class="mt">Raleigh</text>
<text x="239" y="969.5" class="v">20%</text>
<text x="343.5" y="968.7" class="v">8.7%</text>
<text x="461.3" y="968.7" text-anchor="middle" class="v">3.3</text>
<text x="565" y="968.7" text-anchor="middle" class="v">115.6</text>
<text x="653" y="969.7" class="v">49%</text>
<text x="756.3" y="968.7" text-anchor="middle" class="v">25</text>
<text x="56.2" y="999.5" class="rk">10</text>
<text x="118" y="999.3" class="mt">Norfolk</text>
<text x="239" y="998.8" class="v">22.8%</text>
<text x="343.5" y="998.0" class="v">5.2%</text>
<text x="461.3" y="998.0" text-anchor="middle" class="v">3.3</text>
<text x="565" y="998.0" text-anchor="middle" class="v">130.7</text>
<text x="653" y="999.0" class="v">54.9%</text>
<text x="756.3" y="998.0" text-anchor="middle" class="v">25</text>
<text x="36" y="1025.8" font-size="7.6" fill="#A6A6A6" textLength="465" lengthAdjust="spacingAndGlyphs">Source: Realtor.com June 2023-May 2024 rental data, 2024 Claritas estimate based on Census Bureau data, Census’s Housing Vacancies and</text>
<text x="36" y="1034" font-size="7.6" fill="#A6A6A6" textLength="478" lengthAdjust="spacingAndGlyphs">Homeownership Survey, Moody’s Analytics projections of U.S. Bureau of Labor Statistics Local Area Unemployment Statistics, Indeed’s Hiring Lab</text>
<text x="796" y="1033.8" text-anchor="end" font-size="7.6" fill="#A6A6A6">*refers to metro-level metrics</text>
</svg>
</body></html>
